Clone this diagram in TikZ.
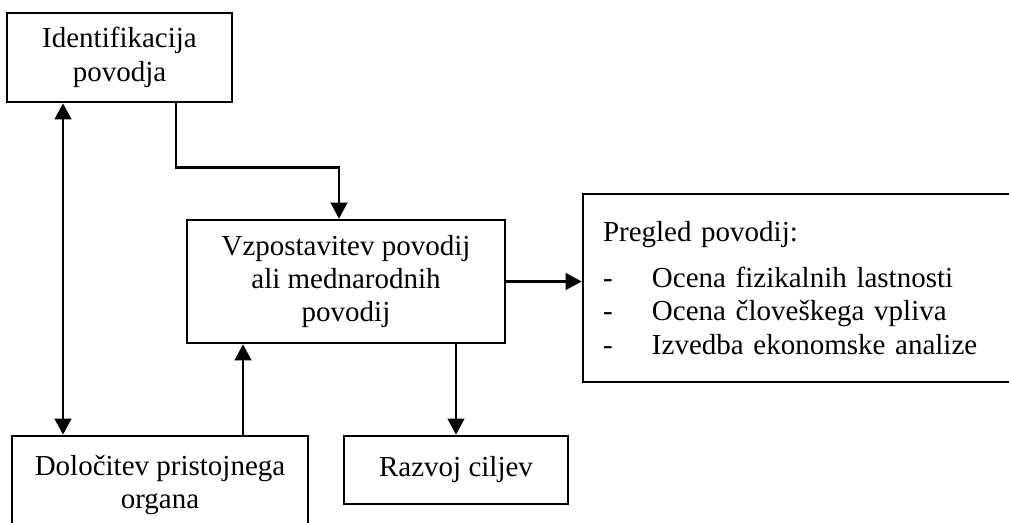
\documentclass[tikz,border=0pt]{standalone}
\usepackage{fontspec}
\setmainfont{Liberation Serif}
\usepackage{tikz}
\usetikzlibrary{arrows.meta, positioning, calc}

\begin{document}
\begin{tikzpicture}[font=\fontsize{16.5}{19}\selectfont,
        box/.style={rectangle, draw=black, line width=1.5pt, fill=white, align=center, inner sep=0pt},
        tip/.style={Triangle[length=3.2mm, width=3.3mm]},
        link/.style={line width=1.5pt, -{Triangle[length=3.2mm, width=3.3mm]}}
    ]
        \useasboundingbox (0,0) rectangle (20.18,-10.46);

        \node[box, minimum width=4.5cm, minimum height=1.78cm] (ident) at (2.39,-1.15) {Identifikacija\\ povodja};
        \node[box, minimum width=6.36cm, minimum height=2.46cm] (vzpost) at (6.92,-5.63) {Vzpostavitev povodij\\ ali mednarodnih\\ povodij};
        \node[box, minimum width=8.62cm, minimum height=3.76cm, text width=7.82cm, align=left, inner xsep=0.4cm] (pregled) at (15.97,-5.76)
            {Pregled povodij:\\[7pt]
             \makebox[0.98cm][l]{-}Ocena fizikalnih lastnosti\\
             \makebox[0.98cm][l]{-}Ocena človeškega vpliva\\
             \makebox[0.98cm][l]{-}Izvedba ekonomske analize};
        \node[box, minimum width=5.92cm, minimum height=1.96cm] (dolocitev) at (3.2,-9.7) {Določitev pristojnega\\ organa};
        \node[box, minimum width=4.48cm, minimum height=1.36cm] (razvoj) at (9.12,-9.4) {Razvoj ciljev};

        % povezave
        \coordinate (levo) at (1.26,0);
        \draw[link, {Triangle[length=3.2mm, width=3.3mm]}-{Triangle[length=3.2mm, width=3.3mm]}] (ident.south -| levo) -- (dolocitev.north -| levo);
        \draw[link] ([xshift=1.13cm]ident.south) -- ++(0,-1.28) -| ([xshift=-0.14cm]vzpost.north);
        \draw[link] ([xshift=1.66cm]dolocitev.north) -- ([xshift=1.66cm]dolocitev.north |- vzpost.south);
        \draw[link] (razvoj.north |- vzpost.south) -- (razvoj.north);
        \draw[link] (vzpost.east) -- (vzpost.east -| pregled.west);
    \end{tikzpicture}
\end{document}
